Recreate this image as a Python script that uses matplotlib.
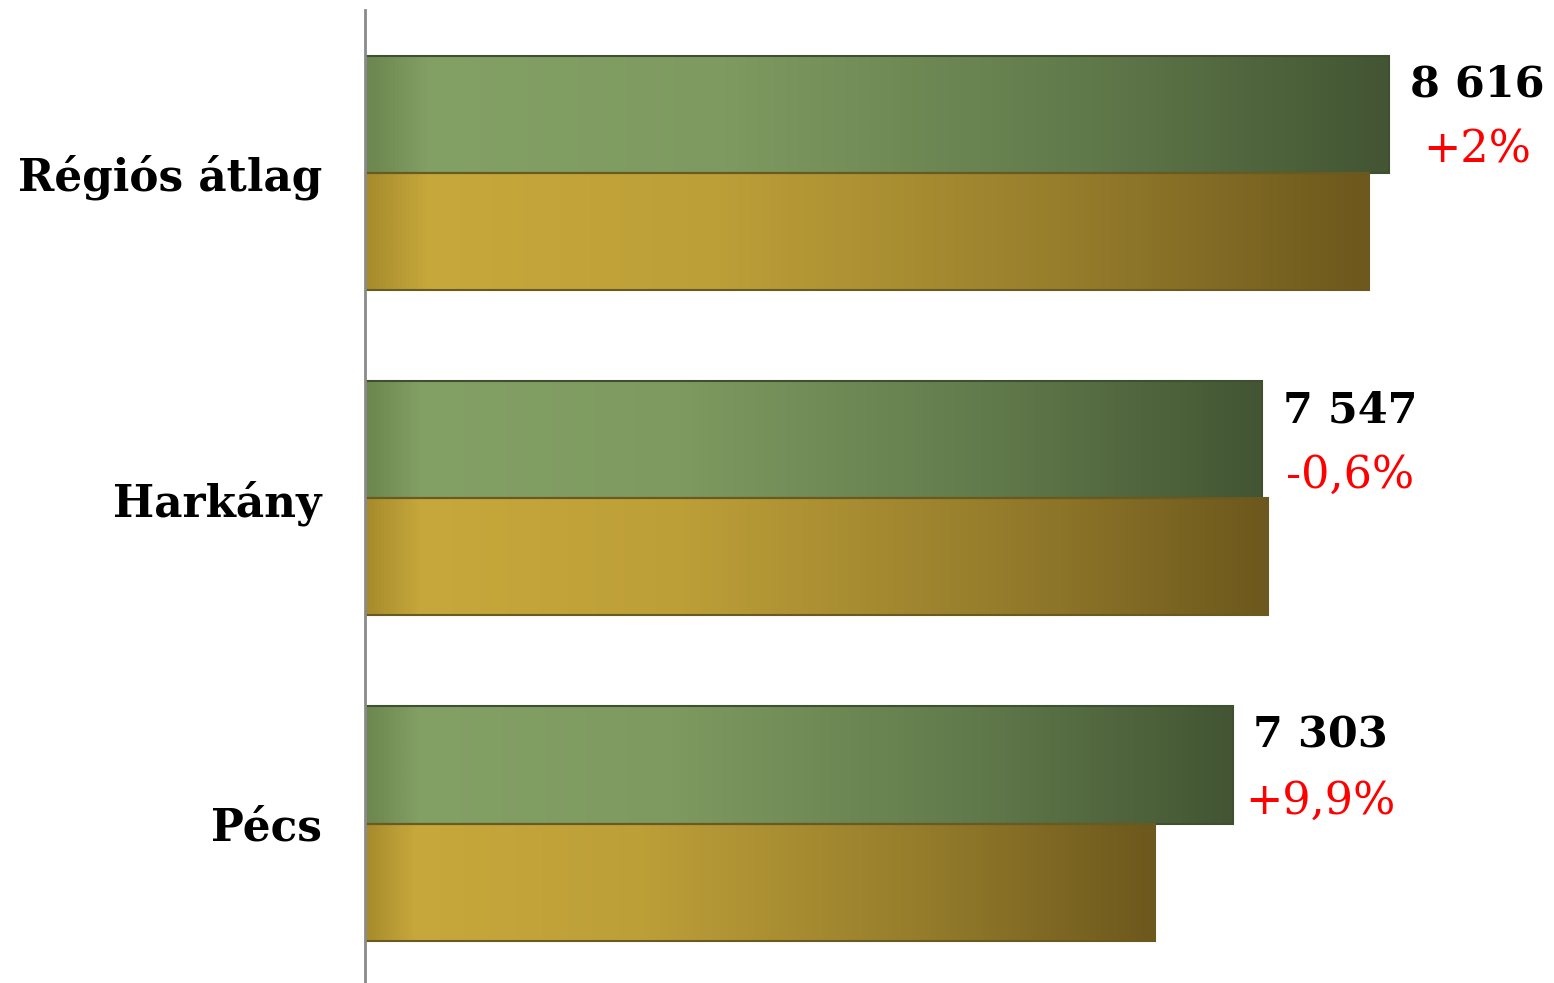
import numpy as np
import matplotlib.pyplot as plt
from matplotlib.colors import LinearSegmentedColormap

categories = ["Pécs", "Harkány", "Régiós átlag"]
current = [7303, 7547, 8616]          # green bars
previous = [6645, 7593, 8447]         # gold bars
value_labels = ["7 303", "7 547", "8 616"]
change_labels = ["+9,9%", "-0,6%", "+2%"]

green_cmap = LinearSegmentedColormap.from_list(
    "green", [(0, "#6c874f"), (0.06, "#83a065"), (0.35, "#7e9a60"),
              (0.7, "#617a4b"), (1, "#435533")])
gold_cmap = LinearSegmentedColormap.from_list(
    "gold", [(0, "#a88c2c"), (0.06, "#c6a83c"), (0.35, "#bd9f38"),
             (0.7, "#967d2c"), (1, "#6d581d")])

FONT = "DejaVu Serif"

fig = plt.figure(figsize=(15.54, 9.83), dpi=100)
ax = fig.add_axes([365 / 1554, 0.0, 1 - 365 / 1554, 1 - 10 / 983])
ax.set_xlim(0, 10000)
ax.set_ylim(-0.49, 2.5)

bar_h = 0.36
grad = np.linspace(0, 1, 256).reshape(1, -1)


def grad_bar(y0, width, cmap, edge):
    ax.imshow(grad, cmap=cmap, aspect="auto",
              extent=[0, width, y0, y0 + bar_h], zorder=2,
              interpolation="bilinear")
    ax.add_patch(plt.Rectangle((0, y0), width, bar_h, fill=False,
                               edgecolor=edge, linewidth=1.5, zorder=3))


y = np.arange(len(categories))
for i in y:
    grad_bar(i, current[i], green_cmap, "#3f5030")
    grad_bar(i - bar_h, previous[i], gold_cmap, "#6a5a20")

    ax.annotate(value_labels[i], xy=(current[i], i + bar_h / 2),
                xytext=(63, 21), textcoords="offset points",
                ha="center", va="center", fontsize=31, fontweight="bold",
                family=FONT, color="black")
    ax.annotate(change_labels[i], xy=(current[i], i + bar_h / 2),
                xytext=(63, -26), textcoords="offset points",
                ha="center", va="center", fontsize=32,
                family=FONT, color="red")

ax.set_yticks(y)
ax.set_yticklabels(categories, fontsize=31.5, fontweight="bold", family=FONT)
ax.tick_params(axis="y", length=0, pad=31)
ax.set_xticks([])
for side in ["top", "right", "bottom"]:
    ax.spines[side].set_visible(False)
ax.spines["left"].set_color("#8a8a8a")
ax.spines["left"].set_linewidth(2)
ax.spines["left"].set_zorder(4)

fig.savefig("out.png", dpi=100)
